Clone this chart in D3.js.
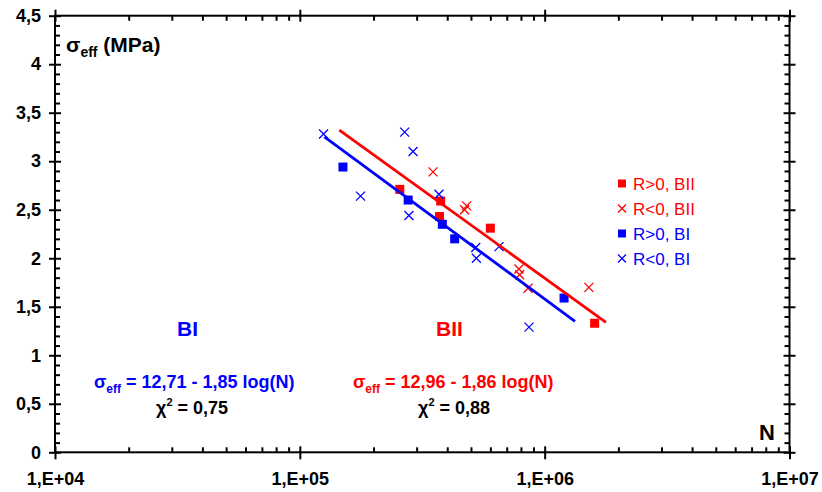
<!DOCTYPE html>
<html>
<head>
<meta charset="utf-8">
<script src="https://cdn.jsdelivr.net/npm/d3@7"></script>
<style>
  html, body { margin: 0; padding: 0; background: #fff; }
  svg { display: block; font-family: "Liberation Sans", Arial, sans-serif; }
  text { white-space: pre; }
</style>
</head>
<body>
<svg id="chart" width="822" height="492"></svg>
<script>
// ---- data ----
const xTickValues = [1e4, 1e5, 1e6, 1e7];
const xTickLabels = ["1,E+04", "1,E+05", "1,E+06", "1,E+07"];
const yTickValues = [0, 0.5, 1, 1.5, 2, 2.5, 3, 3.5, 4, 4.5];
const yTickLabels = ["0", "0,5", "1", "1,5", "2", "2,5", "3", "3,5", "4", "4,5"];

// R>0, BII (red squares)
const posBII_N = [2.56e5, 3.76e5, 3.72e5, 6.0e5, 1.60e6];
const posBII_S = [2.71, 2.59, 2.43, 2.31, 1.33];
// R<0, BII (red crosses)
const negBII_N = [3.50e5, 4.80e5, 4.71e5, 7.85e5, 7.90e5, 8.55e5, 1.515e6];
const negBII_S = [2.89, 2.54, 2.50, 1.89, 1.83, 1.69, 1.70];
// R>0, BI (blue squares)
const posBI_N = [1.50e5, 2.77e5, 3.82e5, 4.29e5, 1.20e6];
const posBI_S = [2.94, 2.60, 2.35, 2.20, 1.59];
// R<0, BI (blue crosses)
const negBI_N = [1.25e5, 1.77e5, 2.68e5, 2.90e5, 2.79e5, 3.70e5, 5.23e5, 5.26e5, 6.51e5, 8.63e5];
const negBI_S = [3.28, 2.64, 3.30, 3.10, 2.44, 2.66, 2.11, 2.00, 2.12, 1.29];

// fit lines (end points)
const fitBI_N = [1.26e5, 1.33e6];
const fitBI_S = [3.25, 1.35];
const fitBII_N = [1.45e5, 1.78e6];
const fitBII_S = [3.32, 1.34];

const legendLabels = ["R>0, BII", "R<0, BII", "R>0, BI", "R<0, BI"];

// ---- drawing ----
const RED = "#ff0000", BLUE = "#0000ff";
const svg = d3.select("#chart");
const x = d3.scaleLog().domain([1e4, 1e7]).range([55, 789.5]);
const y = d3.scaleLinear().domain([0, 4.5]).range([452.3, 15.7]);
const L = 55, R = 789.5, T = 15.7, B = 452.3;

const minorX = [];
[1e4, 1e5, 1e6].forEach(d => { for (let k = 2; k <= 9; k++) minorX.push(d * k); });
const minorY = d3.range(0, 46).map(i => i / 10).filter(v => Math.round(v * 10) % 5 !== 0);

function styleAxis(g) {
  g.select(".domain").remove();
  g.selectAll("line").attr("stroke", "#000").attr("stroke-width", 2);
  g.selectAll("text").attr("font-size", 18).attr("font-weight", "bold").attr("fill", "#000")
   .attr("font-family", '"Liberation Sans", Arial, sans-serif');
}

// bottom
svg.append("g").attr("transform", `translate(0,${B})`)
  .call(d3.axisBottom(x).tickValues(xTickValues).tickSize(7).tickPadding(13)
    .tickFormat((d, i) => xTickLabels[i])).call(styleAxis);
svg.append("g").attr("transform", `translate(0,${B})`)
  .call(d3.axisBottom(x).tickValues(xTickValues).tickSize(-6).tickFormat("")).call(styleAxis);
svg.append("g").attr("transform", `translate(0,${B})`)
  .call(d3.axisBottom(x).tickValues(minorX).tickSize(-5).tickFormat("")).call(styleAxis);
// top
svg.append("g").attr("transform", `translate(0,${T})`)
  .call(d3.axisTop(x).tickValues(xTickValues).tickSize(6).tickFormat("")).call(styleAxis);
svg.append("g").attr("transform", `translate(0,${T})`)
  .call(d3.axisTop(x).tickValues(xTickValues).tickSize(-6).tickFormat("")).call(styleAxis);
svg.append("g").attr("transform", `translate(0,${T})`)
  .call(d3.axisTop(x).tickValues(minorX).tickSize(-5).tickFormat("")).call(styleAxis);
// left
svg.append("g").attr("transform", `translate(${L},0)`)
  .call(d3.axisLeft(y).tickValues(yTickValues).tickSize(6).tickPadding(8)
    .tickFormat((d, i) => yTickLabels[i])).call(styleAxis);
svg.append("g").attr("transform", `translate(${L},0)`)
  .call(d3.axisLeft(y).tickValues(yTickValues).tickSize(-6).tickFormat("")).call(styleAxis);
svg.append("g").attr("transform", `translate(${L},0)`)
  .call(d3.axisLeft(y).tickValues(minorY).tickSize(-5).tickFormat("")).call(styleAxis);
// right
svg.append("g").attr("transform", `translate(${R},0)`)
  .call(d3.axisRight(y).tickValues(yTickValues).tickSize(6).tickFormat("")).call(styleAxis);
svg.append("g").attr("transform", `translate(${R},0)`)
  .call(d3.axisRight(y).tickValues(yTickValues).tickSize(-6).tickFormat("")).call(styleAxis);
svg.append("g").attr("transform", `translate(${R},0)`)
  .call(d3.axisRight(y).tickValues(minorY).tickSize(-5).tickFormat("")).call(styleAxis);

// frame
svg.append("rect").attr("x", L).attr("y", T).attr("width", R - L).attr("height", B - T)
  .attr("fill", "none").attr("stroke", "#000").attr("stroke-width", 2);

// markers
function squares(Ns, Ss, color, size) {
  svg.append("g").selectAll("rect").data(Ns.map((n, i) => [n, Ss[i]])).join("rect")
    .attr("x", d => x(d[0]) - size / 2).attr("y", d => y(d[1]) - size / 2)
    .attr("width", size).attr("height", size).attr("fill", color);
}
function crosses(Ns, Ss, color, h) {
  const g = svg.append("g").attr("stroke", color).attr("stroke-width", 1.3).attr("fill", "none");
  g.selectAll("path").data(Ns.map((n, i) => [n, Ss[i]])).join("path")
    .attr("d", d => {
      const cx = x(d[0]), cy = y(d[1]);
      return `M${cx - h},${cy - h}L${cx + h},${cy + h}M${cx - h},${cy + h}L${cx + h},${cy - h}`;
    });
}
squares(posBII_N, posBII_S, RED, 9);
crosses(negBII_N, negBII_S, RED, 4.5);
squares(posBI_N, posBI_S, BLUE, 9);
crosses(negBI_N, negBI_S, BLUE, 4.5);

// fit lines
const line = d3.line().x(d => x(d[0])).y(d => y(d[1]));
svg.append("path").attr("d", line(fitBI_N.map((n, i) => [n, fitBI_S[i]])))
  .attr("stroke", BLUE).attr("stroke-width", 2.8).attr("fill", "none");
svg.append("path").attr("d", line(fitBII_N.map((n, i) => [n, fitBII_S[i]])))
  .attr("stroke", RED).attr("stroke-width", 2.8).attr("fill", "none");

// legend
const legColors = [RED, RED, BLUE, BLUE];
const legKinds = ["sq", "x", "sq", "x"];
legendLabels.forEach((lab, i) => {
  const cy = 183.5 + i * 25, cx = 622;
  if (legKinds[i] === "sq") {
    svg.append("rect").attr("x", cx - 4).attr("y", cy - 4).attr("width", 8).attr("height", 8).attr("fill", legColors[i]);
  } else {
    svg.append("path").attr("d", `M${cx - 4},${cy - 4}L${cx + 4},${cy + 4}M${cx - 4},${cy + 4}L${cx + 4},${cy - 4}`)
      .attr("stroke", legColors[i]).attr("stroke-width", 1.3);
  }
  svg.append("text").attr("x", 633).attr("y", cy + 6).attr("font-size", 17)
    .attr("fill", legColors[i]).text(lab);
});

// annotations
function sigmaLabel(xp, yp, size, subSize, rest, color) {
  const t = svg.append("text").attr("x", xp).attr("y", yp).attr("font-size", size)
    .attr("font-weight", "bold").attr("fill", color);
  t.append("tspan").text("σ");
  t.append("tspan").attr("font-size", subSize).attr("dy", size * 0.25).text("eff");
  t.append("tspan").attr("dy", -size * 0.25).text(rest);
}
sigmaLabel(66, 52, 21, 14, " (MPa)", "#000");
sigmaLabel(94, 388, 18, 12, " = 12,71 - 1,85 log(N)", BLUE);
sigmaLabel(353, 388, 18, 12, " = 12,96 - 1,86 log(N)", RED);

function chiLabel(xp, yp, rest) {
  const t = svg.append("text").attr("x", xp).attr("y", yp).attr("font-size", 18)
    .attr("font-weight", "bold").attr("fill", "#000");
  t.append("tspan").text("χ");
  t.append("tspan").attr("font-size", 11).attr("dy", -8).text("2");
  t.append("tspan").attr("dy", 8).text(rest);
}
chiLabel(156, 414, " = 0,75");
chiLabel(418, 414, " = 0,88");

svg.append("text").attr("x", 177).attr("y", 336).attr("font-size", 21).attr("font-weight", "bold")
  .attr("fill", BLUE).text("BI");
svg.append("text").attr("x", 436).attr("y", 336).attr("font-size", 21).attr("font-weight", "bold")
  .attr("fill", RED).text("BII");
svg.append("text").attr("x", 759).attr("y", 440).attr("font-size", 22).attr("font-weight", "bold")
  .attr("fill", "#000").text("N");
</script>
</body>
</html>
